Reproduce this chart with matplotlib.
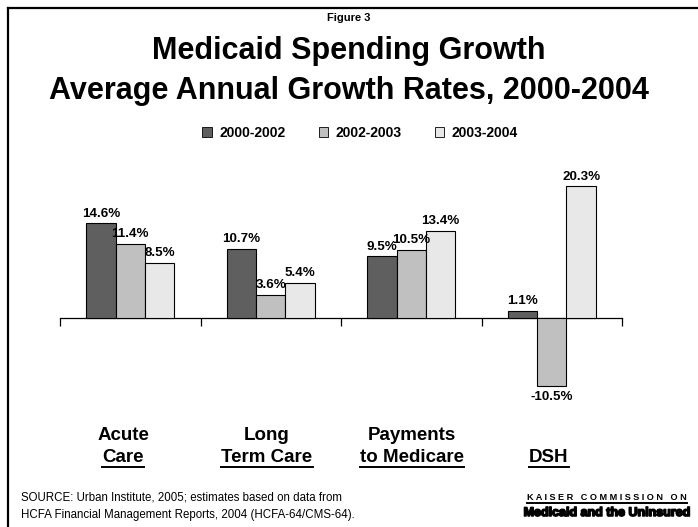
import matplotlib
matplotlib.use("Agg")
import matplotlib.pyplot as plt
import matplotlib.patheffects as pe
from matplotlib.lines import Line2D
from matplotlib.patches import Patch
import numpy as np

plt.rcParams['font.family'] = ['Liberation Sans', 'DejaVu Sans']

categories = [("Acute", "Care"), ("Long", "Term Care"), ("Payments", "to Medicare"), ("", "DSH")]
series_names = ["2000-2002", "2002-2003", "2003-2004"]
values = {
    "2000-2002": [14.6, 10.7, 9.5, 1.1],
    "2002-2003": [11.4, 3.6, 10.5, -10.5],
    "2003-2004": [8.5, 5.4, 13.4, 20.3],
}
bar_colors = ["#5f5f5f", "#c0c0c0", "#e8e8e8"]

W, H = 698, 527
fig = plt.figure(figsize=(W / 100, H / 100), dpi=100)


def fx(px):
    return px / W


def fy(py):
    return 1 - py / H


# frame on left and top, like the slide border
fig.add_artist(Line2D([fx(8), fx(8)], [0, fy(8)], color="black", lw=1.6, transform=fig.transFigure))
fig.add_artist(Line2D([fx(8), 1], [fy(8), fy(8)], color="black", lw=1.6, transform=fig.transFigure))

fig.text(0.5, fy(18), "Figure 3", ha="center", va="center", fontsize=8, fontweight="bold")
fig.text(0.5, fy(51), "Medicaid Spending Growth", ha="center", va="center", fontsize=22, fontweight="bold")
fig.text(0.5, fy(91), "Average Annual Growth Rates, 2000-2004", ha="center", va="center",
         fontsize=22, fontweight="bold")

# axes area
ax_left, ax_right = 60, 622
ax_top, ax_bot = 170, 400
ax = fig.add_axes([fx(ax_left), fy(ax_bot), fx(ax_right - ax_left), (ax_bot - ax_top) / H])
zero_px = 318
px_per_unit = 6.48
ax.set_ylim(-(ax_bot - zero_px) / px_per_unit, (zero_px - ax_top) / px_per_unit)
ax.set_xlim(-0.5, len(categories) - 0.5)

x = np.arange(len(categories))
bw = 0.209
for i, name in enumerate(series_names):
    vals = values[name]
    pos = x + (i - 1) * bw
    ax.bar(pos, vals, width=bw, color=bar_colors[i], edgecolor="black", linewidth=0.8, zorder=2)
    for xp, v in zip(pos, vals):
        if v >= 0:
            ax.text(xp, v + 0.6, f"{v:.1f}%", ha="center", va="bottom", fontsize=9.6, fontweight="bold")
        else:
            ax.text(xp, v - 0.8, f"{v:.1f}%", ha="center", va="top", fontsize=9.6, fontweight="bold")

for s in ["top", "right", "left"]:
    ax.spines[s].set_visible(False)
ax.spines["bottom"].set_position(("data", 0))
ax.spines["bottom"].set_linewidth(0.9)
ax.spines["bottom"].set_zorder(1)
ax.set_xticks(np.arange(-0.5, len(categories), 1.0))
ax.set_xticklabels([])
ax.tick_params(axis="x", direction="out", length=6, width=0.9)
ax.set_yticks([])
ax.patch.set_alpha(0)

# category labels with underlined second line
cat_x = [123, 267, 412, 549]
under_texts = []
for (l1, l2), cx in zip(categories, cat_x):
    if l1:
        fig.text(fx(cx), fy(435), l1, ha="center", va="center", fontsize=13.5, fontweight="bold")
    t = fig.text(fx(cx), fy(457), l2, ha="center", va="center", fontsize=13.5, fontweight="bold")
    under_texts.append(t)

# legend
handles = [Patch(facecolor=c, edgecolor="black", linewidth=0.6) for c in bar_colors]
fig.legend(handles, series_names, loc="center", bbox_to_anchor=(fx(360), fy(133)), ncol=3, frameon=False,
           prop={"weight": "bold", "size": 10}, handlelength=0.7, handleheight=0.7,
           handletextpad=0.5, columnspacing=2.4)

fig.text(fx(21), fy(498), "SOURCE: Urban Institute, 2005; estimates based on data from",
         ha="left", va="center", fontsize=8.3)
fig.text(fx(21), fy(515), "HCFA Financial Management Reports, 2004 (HCFA-64/CMS-64).",
         ha="left", va="center", fontsize=8.3)

k1 = fig.text(fx(607), fy(497), "K A I S E R   C O M M I S S I O N   O N", ha="center", va="center",
              fontsize=6.6, fontweight="bold")
under_texts.append(k1)
k2 = fig.text(fx(607), fy(513), "Medicaid and the Uninsured", ha="center", va="center",
              fontsize=9, fontweight="bold",
              path_effects=[pe.withStroke(linewidth=1.1, foreground="black")])

fig.canvas.draw()
renderer = fig.canvas.get_renderer()
for t in under_texts:
    bb = t.get_window_extent(renderer)
    y = bb.y0 - 1.5
    fig.add_artist(Line2D([bb.x0 / W, bb.x1 / W], [y / H, y / H], color="black", lw=1.4,
                          transform=fig.transFigure))

fig.savefig("out.png", dpi=100)
